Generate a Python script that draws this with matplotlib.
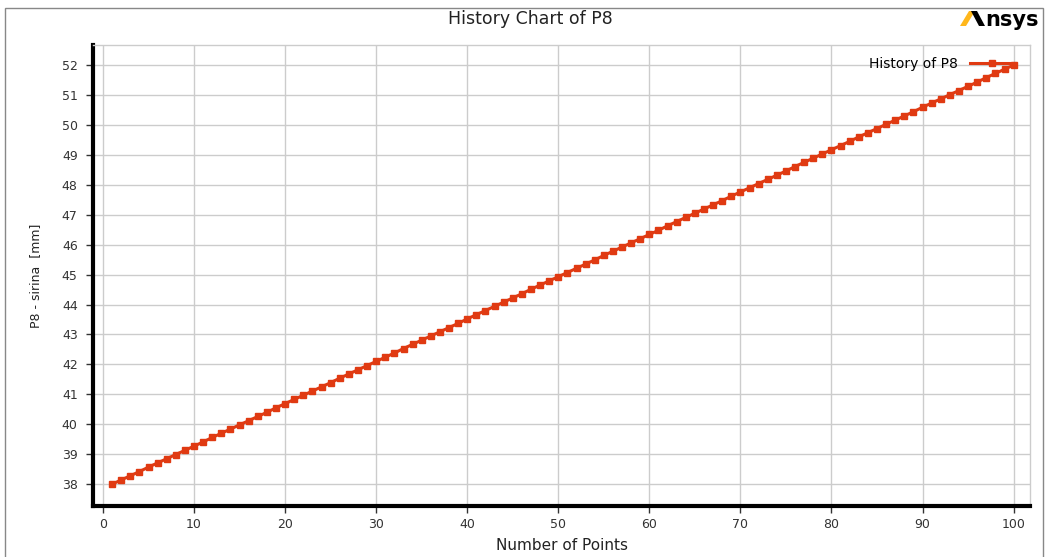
import matplotlib
matplotlib.use("Agg")
import matplotlib.pyplot as plt
from matplotlib.patches import Rectangle, Polygon

# history of design point P8
points = list(range(1, 101))
sirina = [
    38.00, 38.14, 38.28, 38.42, 38.57, 38.71, 38.85, 38.99, 39.13, 39.27,
    39.41, 39.56, 39.70, 39.84, 39.98, 40.12, 40.26, 40.40, 40.55, 40.69,
    40.83, 40.97, 41.11, 41.25, 41.39, 41.54, 41.68, 41.82, 41.96, 42.10,
    42.24, 42.38, 42.53, 42.67, 42.81, 42.95, 43.09, 43.23, 43.37, 43.52,
    43.66, 43.80, 43.94, 44.08, 44.22, 44.36, 44.51, 44.65, 44.79, 44.93,
    45.07, 45.21, 45.35, 45.49, 45.64, 45.78, 45.92, 46.06, 46.20, 46.34,
    46.48, 46.63, 46.77, 46.91, 47.05, 47.19, 47.33, 47.47, 47.62, 47.76,
    47.90, 48.04, 48.18, 48.32, 48.46, 48.61, 48.75, 48.89, 49.03, 49.17,
    49.31, 49.45, 49.60, 49.74, 49.88, 50.02, 50.16, 50.30, 50.44, 50.59,
    50.73, 50.87, 51.01, 51.15, 51.29, 51.43, 51.58, 51.72, 51.86, 52.00,
]
xticks = list(range(0, 101, 10))
yticks = list(range(38, 53))

plt.rcParams.update({"font.family": "DejaVu Sans"})
W, H = 1049, 557
fig = plt.figure(figsize=(W / 100, H / 100), dpi=100)
ax = fig.add_axes([93 / W, 1 - 506 / H, (1030 - 93) / W, (506 - 45) / H])

RED = "#e03a12"
ax.plot(points, sirina, color=RED, lw=2.2, marker="s", ms=4.6,
        mec=RED, mfc=RED, label="History of P8", zorder=3)

ax.set_xlim(-1.1, 101.8)
ax.set_ylim(37.27, 52.67)
ax.set_xticks(xticks)
ax.set_yticks(yticks)
ax.grid(True, color="#cccccc", lw=1.0)
ax.set_axisbelow(True)
for s in ("left", "bottom"):
    ax.spines[s].set_linewidth(3.0)
    ax.spines[s].set_color("black")
for s in ("top", "right"):
    ax.spines[s].set_linewidth(1.0)
    ax.spines[s].set_color("#cccccc")
ax.tick_params(axis="both", direction="out", length=5, width=1,
               labelsize=9, labelcolor="#333333", color="#333333")
ax.tick_params(axis="y", pad=6)

ax.set_xlabel("Number of Points", fontsize=11, color="#222222", labelpad=5)
ax.set_ylabel("P8 - sirina  [mm]", fontsize=9, color="#222222", labelpad=14)

ax.legend(loc="upper right", bbox_to_anchor=(0.9925, 0.993), frameon=False,
          fontsize=10, markerfirst=False, handlelength=3.2, handletextpad=0.9,
          borderaxespad=0.2)

fig.text(530 / W, 1 - 19 / H, "History Chart of P8", ha="center", va="center",
         fontsize=12.5, color="#222222")

# Ansys logo: yellow slash, black back-stroke, then "nsys"
def px(pts):
    return [(x / W, 1 - y / H) for x, y in pts]
fig.patches.append(Polygon(px([(960, 26), (966, 26), (975, 11), (969, 11)]),
                           closed=True, transform=fig.transFigure,
                           color="#ffb71b", lw=0))
fig.patches.append(Polygon(px([(971, 11), (977, 11), (985, 26), (979, 26)]),
                           closed=True, transform=fig.transFigure,
                           color="black", lw=0))
fig.text(985 / W, 1 - 19.5 / H, "nsys", ha="left", va="center", fontsize=15,
         fontweight="bold", color="black")

# outer frame
fig.patches.append(Rectangle((5 / W, -0.01), (1043 - 5) / W, 1 - 8 / H + 0.01,
                             transform=fig.transFigure, fill=False,
                             edgecolor="#888888", lw=1.0))

fig.savefig("out.png", dpi=100)
